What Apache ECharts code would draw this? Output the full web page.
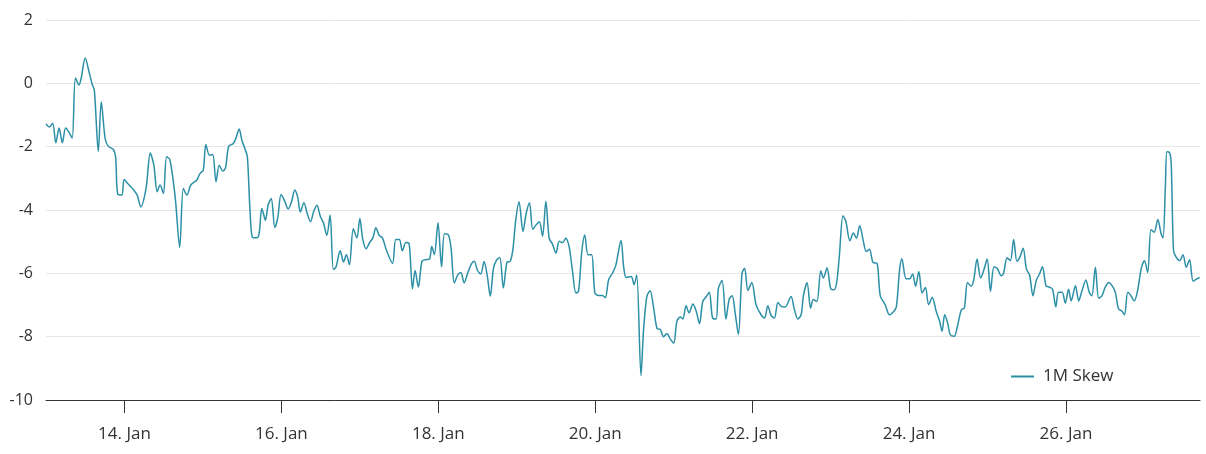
<!DOCTYPE html>
<html>
<head>
<meta charset="utf-8">
<script src="https://cdn.jsdelivr.net/npm/echarts@6/dist/echarts.min.js"></script>
<style>
html,body{margin:0;padding:0;background:#fff;}
#chart{width:1206px;height:454px;}
</style>
</head>
<body>
<div id="chart"></div>
<script>
// hours since 13 Jan 00:00
const hours = [
  0,1.0,2.05,3.0,4.0,5.0,6.0,7.0,8.0,9.0,
  10.1,10.8,12.0,13.2,14.1,14.8,16.0,16.9,18.1,19.1,
  20.6,21.3,21.9,23.2,23.9,25.2,26.7,27.9,29.0,30.6,
  31.9,33.0,34.0,34.9,35.9,36.9,37.9,39.5,40.9,42.0,
  43.1,44.3,46.1,47.1,48.1,48.9,50.0,51.0,52.0,53.0,
  54.1,54.9,55.9,57.3,58.1,59.1,
  59.9,60.9,61.6,62.4,63.2,64.5,65.2,66.0,66.5,67.1,
  68.0,68.9,70.0,70.9,71.9,72.9,74.1,75.1,76.1,77.0,
  77.8,78.9,79.9,80.9,81.9,82.9,83.9,84.9,85.9,86.9,
  87.9,88.7,90.0,91.0,91.9,92.8,94.0,95.1,96.0,96.9,
  97.9,99.1,100.0,100.9,101.9,102.9,104.3,106.0,107.0,108.1,
  109.0,110.1,111.0,112.1,112.9,113.9,
  115.0,116.0,117.3,118.0,118.8,119.9,121.0,121.9,123.1,123.9,
  124.9,126.0,126.9,127.9,129.0,130.1,131.0,132.0,133.0,134.0,
  135.0,135.9,136.9,137.9,138.8,139.9,141.0,142.0,142.8,143.7,
  144.7,145.9,146.9,147.9,148.9,149.9,150.9,151.9,152.9,153.9,
  154.9,156.0,157.0,158.0,159.0,160.0,161.0,162.1,162.9,163.9,
  164.8,165.8,166.9,167.9,169.0,170.2,171.1,172.1,173.3,174.3,
  175.9,176.7,177.5,179.0,179.9,180.7,182.0,182.8,183.8,184.8,
  185.8,186.9,187.9,188.9,189.9,190.9,192.0,193.0,194.0,194.8,
  195.8,196.7,197.9,198.9,199.9,200.9,202.0,202.9,203.9,205.0,
  205.7,206.8,208.0,209.0,209.9,210.8,211.8,212.9,213.7,214.7,
  215.9,217.2,218.7,219.8,220.8,221.8,222.8,223.9,224.9,226.1,
  227.9,228.9,230.0,231.0,
  231.7,232.8,233.9,234.7,235.8,237.0,237.8,238.9,240.1,241.1,
  241.9,242.7,243.8,244.7,245.9,247.0,247.9,248.9,250.1,250.9,
  251.9,253.0,254.2,255.2,256.7,258.0,259.1,260.1,261.1,261.8,
  263.1,264.2,265.1,266.0,267.0,268.0,269.0,270.0,271.1,272.3,
  273.3,274.1,274.9,275.8,276.6,277.8,278.8,280.0,280.9,281.9,
  283.0,283.8,284.8,285.9,286.9,287.9,288.9,
  290.0,291.0,292.2,292.9,294.0,295.0,296.0,297.0,297.9,298.9,
  299.9,300.9,301.9,302.9,303.9,304.8,305.9,307.0,307.9,308.9,
  309.7,310.8,311.8,312.8,313.6,314.9,315.9,316.9,318.1,319.1,
  319.9,321.0,322.0,323.0,324.0,325.1,326.1,327.1,328.1,329.1,
  329.9,330.9,331.7,332.9,333.9,335.0,336.0,337.0,338.0,339.0,
  340.1,341.1,341.7,342.4,342.9,343.7,344.2,344.9,345.7,346.8,
  347.8,348.8,349.8,350.9,351.9,352.9
];

const skew = [
  -1.28,-1.38,-1.26,-1.88,-1.41,-1.88,-1.41,-1.54,-1.73,0.17,
  -0.05,0.19,0.80,0.35,-0.02,-0.23,-2.15,-0.58,-1.75,-1.99,
  -2.09,-2.32,-3.48,-3.53,-3.04,-3.19,-3.35,-3.53,-3.9,-3.32,
  -2.2,-2.59,-3.42,-3.21,-3.48,-2.32,-2.41,-3.58,-5.18,-3.32,
  -3.53,-3.21,-3.06,-2.85,-2.74,-1.93,-2.27,-2.25,-3.11,-2.59,
  -2.77,-2.67,-1.99,-1.90,-1.73,-1.44,
  -1.79,-2.08,-2.32,-4.0,-4.87,-4.88,-4.74,-3.95,-4.11,-4.32,
  -3.82,-3.64,-4.55,-4.24,-3.51,-3.69,-3.97,-3.74,-3.37,-3.6,
  -4.06,-3.77,-4.11,-4.37,-4.04,-3.85,-4.2,-4.41,-4.8,-4.16,
  -5.88,-5.8,-5.29,-5.64,-5.41,-5.73,-4.59,-4.88,-4.27,-4.93,
  -5.22,-5.01,-4.88,-4.56,-4.8,-4.88,-5.32,-5.69,-4.93,-4.93,
  -5.29,-5.03,-5.04,-6.49,-5.91,-6.43,
  -5.62,-5.57,-5.55,-5.15,-5.41,-4.4,-5.8,-4.75,-4.79,-5.2,
  -6.3,-6.04,-5.97,-6.3,-5.99,-5.71,-5.62,-5.91,-6.02,-5.63,
  -6.09,-6.72,-5.83,-5.57,-5.5,-6.46,-5.65,-5.62,-5.26,-4.31,
  -3.74,-4.68,-4.1,-3.77,-4.61,-4.47,-4.37,-4.82,-3.72,-4.89,
  -5.07,-5.36,-4.99,-5.03,-4.89,-5.15,-5.88,-6.62,-6.57,-5.31,
  -4.79,-5.41,-5.41,-6.62,-6.7,-6.7,-6.77,-6.2,-5.99,-5.75,
  -4.96,-5.79,-6.13,-6.1,-6.36,-6.05,-9.23,-7.77,-6.73,-6.55,
  -7.04,-7.74,-7.77,-8.0,-7.9,-8.06,-8.21,-7.51,-7.38,-7.44,
  -7.02,-7.25,-6.97,-7.2,-7.59,-6.89,-6.73,-6.6,-7.41,-7.44,
  -6.47,-6.23,-7.44,-6.81,-6.71,-7.25,-7.93,-6.0,-5.84,-6.54,
  -6.29,-6.99,-7.3,-7.41,-7.02,-7.33,-7.41,-6.92,-7.04,-7.06,
  -6.73,-7.13,-7.44,-7.3,
  -6.7,-6.3,-7.1,-6.83,-6.89,-5.92,-6.15,-5.82,-6.5,-6.52,
  -6.26,-5.42,-4.18,-4.37,-4.97,-4.73,-4.89,-4.5,-5.03,-5.31,
  -5.24,-5.66,-5.68,-6.71,-6.99,-7.31,-7.23,-7.07,-5.89,-5.54,
  -6.17,-6.17,-6.02,-6.41,-5.94,-6.62,-6.45,-6.99,-6.76,-7.2,
  -7.49,-7.83,-7.31,-7.57,-7.94,-7.99,-7.67,-7.15,-7.1,-6.29,
  -6.41,-6.2,-5.55,-6.15,-5.89,-5.55,-6.57,
  -5.79,-5.85,-6.08,-6.0,-5.51,-5.6,-4.93,-5.62,-5.49,-5.21,
  -5.86,-6.07,-6.71,-6.23,-6.02,-5.79,-6.39,-6.44,-6.5,-7.06,
  -6.6,-6.6,-6.94,-6.5,-6.87,-6.39,-6.87,-6.55,-6.21,-6.6,
  -6.71,-5.81,-6.78,-6.71,-6.44,-6.29,-6.39,-6.6,-7.13,-7.19,
  -7.31,-6.6,-6.68,-6.87,-6.55,-5.86,-5.6,-5.97,-4.62,-4.7,
  -4.3,-4.75,-4.88,-3.27,-2.16,-2.19,-2.53,-5.28,-5.49,-5.6,
  -5.41,-5.81,-5.57,-6.25,-6.18,-6.13
];

const tickHours = [24, 72, 120, 168, 216, 264, 312];
const tickLabels = ['14. Jan', '16. Jan', '18. Jan', '20. Jan', '22. Jan', '24. Jan', '26. Jan'];
const seriesName = '1M Skew';

const n = Math.min(hours.length, skew.length);
const data = [];
for (let i = 0; i < n; i++) data.push([hours[i], skew[i]]);

const FONT = "'Open Sans', 'Noto Sans', sans-serif";
const LINE_COLOR = '#2b8fa6';
const chart = echarts.init(document.getElementById('chart'), null, {renderer: 'canvas'});
chart.setOption({
  animation: false,
  backgroundColor: '#ffffff',
  textStyle: {fontFamily: FONT},
  grid: {left: 46, right: 6, top: 20, bottom: 54, containLabel: false},
  legend: {
    data: [{name: seriesName, icon: 'rect'}],
    left: 1011, top: 368,
    padding: 0,
    itemWidth: 23, itemHeight: 2,
    textStyle: {fontFamily: FONT, fontSize: 17, color: '#333333', padding: [0, 0, 0, 4]}
  },
  xAxis: {
    type: 'value',
    min: 0, max: 353,
    axisLine: {show: true, onZero: false, lineStyle: {color: '#333333', width: 1}},
    axisTick: {show: true, customValues: tickHours, length: 13, lineStyle: {color: '#333333', width: 1}},
    axisLabel: {
      customValues: tickHours,
      margin: 26,
      fontFamily: FONT, fontSize: 17, color: '#333333',
      formatter: function (v) {
        const i = tickHours.indexOf(v);
        return i >= 0 ? tickLabels[i] : '';
      }
    },
    splitLine: {show: false}
  },
  yAxis: {
    type: 'value',
    min: -10, max: 2, interval: 2,
    axisLine: {show: false},
    axisTick: {show: false},
    axisLabel: {margin: 13, fontFamily: FONT, fontSize: 16, color: '#333333'},
    splitLine: {show: true, lineStyle: {color: '#e6e6e6', width: 1}}
  },
  series: [{
    name: seriesName,
    type: 'line',
    data: data,
    symbol: 'none',
    showSymbol: false,
    smooth: 0.3,
    lineStyle: {color: LINE_COLOR, width: 1.5},
    itemStyle: {color: LINE_COLOR}
  }]
});
</script>
</body>
</html>
